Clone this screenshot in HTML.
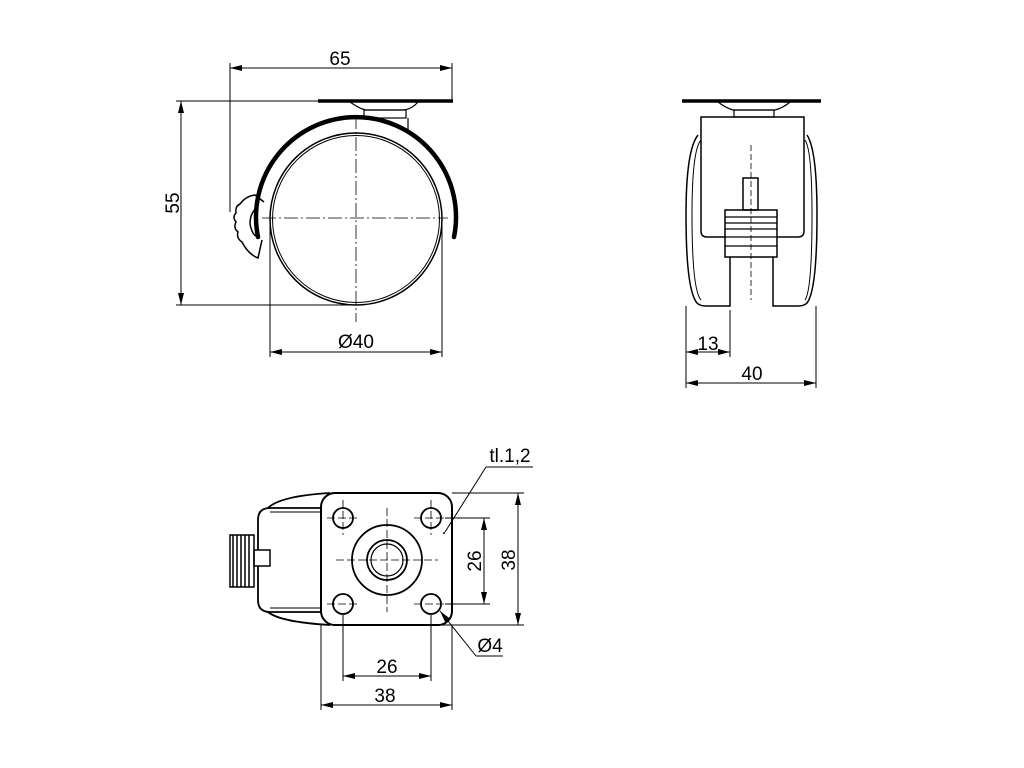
<!DOCTYPE html>
<html><head><style>html,body{margin:0;padding:0;background:#fff}svg{display:block}</style></head>
<body>
<svg width="1024" height="768" viewBox="0 0 1024 768" xmlns="http://www.w3.org/2000/svg" font-family="Liberation Sans, sans-serif" font-size="19" fill="none" stroke="#000">
<defs>
<marker id="a" viewBox="0 0 12 6" refX="12" refY="3" markerWidth="12" markerHeight="6" orient="auto-start-reverse" markerUnits="userSpaceOnUse"><path d="M0,0 L12,3 L0,6z" fill="#000" stroke="none"/></marker>
</defs>
<!-- SIDE VIEW -->
<g stroke-width="1">
<line x1="230" y1="68" x2="452" y2="68" marker-start="url(#a)" marker-end="url(#a)"/>
<line x1="230" y1="63" x2="230" y2="212"/>
<line x1="452" y1="63" x2="452" y2="101"/>
<line x1="181" y1="101" x2="181" y2="305" marker-start="url(#a)" marker-end="url(#a)"/>
<line x1="176" y1="101" x2="318" y2="101"/>
<line x1="176" y1="305" x2="356" y2="305"/>
<line x1="270" y1="352" x2="442" y2="352" marker-start="url(#a)" marker-end="url(#a)"/>
<line x1="270" y1="220" x2="270" y2="357"/>
<line x1="442" y1="220" x2="442" y2="357"/>
<line x1="262" y1="218" x2="448" y2="218" stroke-dasharray="14,3,2,3" stroke-width="0.8"/>
<line x1="356" y1="115" x2="356" y2="322" stroke-dasharray="14,3,2,3" stroke-width="0.8"/>
</g>
<g fill="#000" stroke="none">
<text x="340" y="65" text-anchor="middle">65</text>
<text x="356" y="348" text-anchor="middle">Ø40</text>
<text transform="translate(179,203) rotate(-90)" text-anchor="middle">55</text>
</g>
<line x1="318" y1="101" x2="453" y2="101" stroke-width="3.5"/>
<path d="M350,102 Q360,109 366,110 L404,110 Q412,109 418,102" stroke-width="1.2"/>
<rect x="364" y="110" width="42" height="8" stroke-width="1.2"/>
<line x1="408" y1="118" x2="408" y2="133" stroke-width="1.2"/>
<circle cx="356" cy="219" r="86" stroke-width="1.5"/>
<circle cx="356" cy="219" r="83.5" stroke-width="1"/>
<path d="M258,237 A100,100 0 1 1 454,237" stroke-width="4.5" stroke-linecap="round"/>
<path d="M264,202 L255,195 Q246,196 240,204 Q235,206 236,213 Q232,217 236,222 Q233,228 238,232 Q236,238 242,242 Q248,254 258,258 L262,240" stroke-width="1.5"/>
<path d="M258,207 Q250,212 250,224 Q252,234 256,236" stroke-width="1.5"/>
<!-- FRONT VIEW -->
<line x1="682" y1="101" x2="821" y2="101" stroke-width="3.5"/>
<path d="M718,102 Q726,108 733,110 L775,110 Q783,108 790,102" stroke-width="1.2"/>
<rect x="734" y="110" width="40" height="7" stroke-width="1.2"/>
<path d="M701,117 L701,231 Q701,237 707,237 L798,237 Q804,237 804,231 L804,117 Z" stroke-width="1.5"/>
<path d="M698,135 Q686,150 686,215 Q686,290 697,303 Q700,306 706,306 L730,306 L730,257" stroke-width="1.5"/>
<path d="M807,135 Q817,150 817,215 Q817,290 807,303 Q804,306 798,306 L773,306 L773,257" stroke-width="1.5"/>
<path d="M701,140 Q692,150 692,215 Q692,290 701,300" stroke-width="1"/>
<path d="M805,140 Q812,150 812,215 Q812,290 805,300" stroke-width="1"/>
<rect x="725" y="210" width="52" height="47" fill="#fff" stroke-width="1.5"/>
<line x1="725" y1="217" x2="777" y2="217" stroke-width="1.2"/>
<line x1="725" y1="223" x2="777" y2="223" stroke-width="1.2"/>
<line x1="725" y1="229" x2="777" y2="229" stroke-width="1.2"/>
<line x1="725" y1="237" x2="777" y2="237" stroke-width="1.2"/>
<line x1="725" y1="246" x2="777" y2="246" stroke-width="1.2"/>
<rect x="743" y="178" width="15" height="32" stroke-width="1.5"/>
<line x1="751" y1="145" x2="751" y2="300" stroke-dasharray="6,3" stroke-width="0.8"/>
<g stroke-width="1">
<line x1="686" y1="352" x2="730" y2="352" marker-start="url(#a)" marker-end="url(#a)"/>
<line x1="686" y1="383" x2="816" y2="383" marker-start="url(#a)" marker-end="url(#a)"/>
<line x1="686" y1="306" x2="686" y2="388"/>
<line x1="730" y1="310" x2="730" y2="357"/>
<line x1="816" y1="306" x2="816" y2="388"/>
</g>
<g fill="#000" stroke="none">
<text x="708" y="350" text-anchor="middle">13</text>
<text x="752" y="380" text-anchor="middle">40</text>
</g>
<!-- BOTTOM VIEW -->
<path d="M321,508 L270,508 Q258,508 258,520 L258,600 Q258,612 270,612 L321,612" stroke-width="1.8"/>
<path d="M268,508 Q280,496 330,493" stroke-width="1.8"/>
<path d="M268,612 Q280,622 330,625" stroke-width="1.8"/>
<line x1="270" y1="512" x2="321" y2="512" stroke-width="1"/>
<line x1="270" y1="608" x2="321" y2="608" stroke-width="1"/>
<rect x="254" y="550" width="16" height="16" stroke-width="1.5" fill="#fff"/>
<rect x="230" y="535" width="24" height="52" stroke-width="1.5"/>
<g stroke-width="1.5"><line x1="233" y1="535" x2="233" y2="587"/><line x1="237" y1="535" x2="237" y2="587"/><line x1="241" y1="535" x2="241" y2="587"/><line x1="245" y1="535" x2="245" y2="587"/><line x1="249" y1="535" x2="249" y2="587"/></g>
<rect x="321" y="493" width="131" height="132" rx="14" fill="#fff" stroke-width="2"/>
<circle cx="343" cy="518" r="10" stroke-width="1.8"/>
<circle cx="431" cy="518" r="10" stroke-width="1.8"/>
<circle cx="343" cy="604" r="10" stroke-width="1.8"/>
<circle cx="431" cy="604" r="10" stroke-width="1.8"/>
<circle cx="387" cy="560" r="35" stroke-width="1.8"/>
<circle cx="387" cy="560" r="20" stroke-width="1.8"/>
<circle cx="387" cy="560" r="16" stroke-width="1.2"/>
<g stroke-width="0.8" stroke-dasharray="8,3">
<line x1="327" y1="518" x2="360" y2="518"/><line x1="343" y1="500" x2="343" y2="535"/>
<line x1="414" y1="518" x2="448" y2="518"/><line x1="431" y1="500" x2="431" y2="535"/>
<line x1="327" y1="604" x2="360" y2="604"/><line x1="414" y1="604" x2="448" y2="604"/>
<line x1="336" y1="560" x2="438" y2="560"/><line x1="387" y1="508" x2="387" y2="612"/>
</g>
<g stroke-width="1">
<line x1="484" y1="518" x2="484" y2="604" marker-start="url(#a)" marker-end="url(#a)"/>
<line x1="518" y1="493" x2="518" y2="625" marker-start="url(#a)" marker-end="url(#a)"/>
<line x1="445" y1="518" x2="490" y2="518"/>
<line x1="445" y1="604" x2="490" y2="604"/>
<line x1="452" y1="493" x2="524" y2="493"/>
<line x1="440" y1="625" x2="524" y2="625"/>
<line x1="343" y1="676" x2="431" y2="676" marker-start="url(#a)" marker-end="url(#a)"/>
<line x1="321" y1="705" x2="452" y2="705" marker-start="url(#a)" marker-end="url(#a)"/>
<line x1="343" y1="615" x2="343" y2="681"/>
<line x1="431" y1="615" x2="431" y2="681"/>
<line x1="321" y1="625" x2="321" y2="710"/>
<line x1="452" y1="625" x2="452" y2="710"/>
<line x1="533" y1="467" x2="486" y2="467"/>
<line x1="486" y1="467" x2="445" y2="532"/>
<line x1="503" y1="656" x2="476" y2="656"/>
<line x1="476" y1="656" x2="440" y2="611" marker-end="url(#a)"/>
</g>
<circle cx="444" cy="533" r="1" fill="#000" stroke="none"/>
<g fill="#000" stroke="none">
<text x="510" y="462" text-anchor="middle">tl.1,2</text>
<text x="490" y="652" text-anchor="middle">Ø4</text>
<text x="387" y="673" text-anchor="middle">26</text>
<text x="385" y="702" text-anchor="middle">38</text>
<text transform="translate(481,561) rotate(-90)" text-anchor="middle">26</text>
<text transform="translate(515,560) rotate(-90)" text-anchor="middle">38</text>
</g>
</svg>
</body></html>
